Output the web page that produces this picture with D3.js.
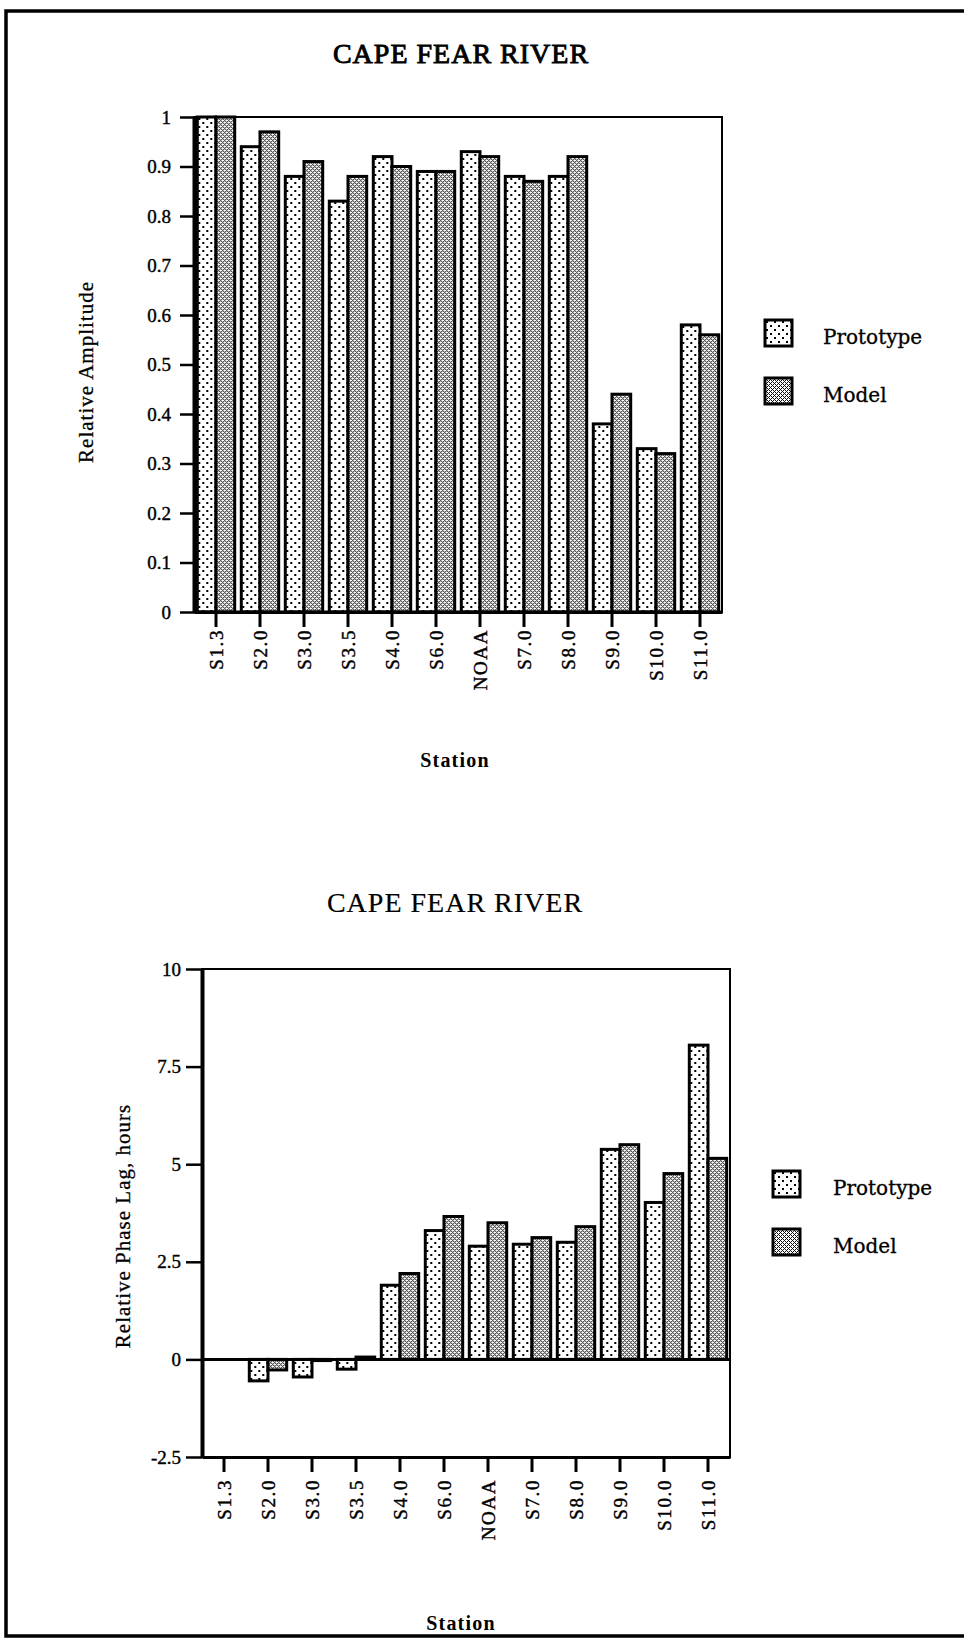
<!DOCTYPE html>
<html>
<head>
<meta charset="utf-8">
<script src="https://cdn.jsdelivr.net/npm/d3@7"></script>
<style>
  body { margin: 0; background: #fff; }
  svg { display: block; }
</style>
</head>
<body>
<script>
// donnees
const stations = ['S1.3', 'S2.0', 'S3.0', 'S3.5', 'S4.0', 'S6.0', 'NOAA', 'S7.0', 'S8.0', 'S9.0', 'S10.0', 'S11.0'];
const series = ['Prototype', 'Model'];

const ampPrototype = [1.00, 0.94, 0.88, 0.83, 0.92, 0.89, 0.93, 0.88, 0.88, 0.38, 0.33, 0.58];
const ampModel     = [1.00, 0.97, 0.91, 0.88, 0.90, 0.89, 0.92, 0.87, 0.92, 0.44, 0.32, 0.56];

const lagPrototype = [0, -0.55, -0.45, -0.25, 1.90, 3.30, 2.90, 2.95, 3.00, 5.38, 4.02, 8.05];
const lagModel     = [0, -0.27, -0.03, 0.06, 2.20, 3.66, 3.50, 3.12, 3.40, 5.50, 4.76, 5.15];

const ampTicks = [0, 0.1, 0.2, 0.3, 0.4, 0.5, 0.6, 0.7, 0.8, 0.9, 1];
const ampTickLabels = ['0', '0.1', '0.2', '0.3', '0.4', '0.5', '0.6', '0.7', '0.8', '0.9', '1'];
const lagTicks = [-2.5, 0, 2.5, 5, 7.5, 10];
const lagTickLabels = ['-2.5', '0', '2.5', '5', '7.5', '10'];

const serif = '"Liberation Serif", "Times New Roman", serif';
const wideSerif = '"DejaVu Serif", serif';

const svg = d3.select('body')
              .append('svg')
              .attr('width', 964)
              .attr('height', 1639);

// motifs de remplissage
const defs = svg.append('defs');

const dots = defs.append('pattern')
                 .attr('id', 'motif-proto')
                 .attr('patternUnits', 'userSpaceOnUse')
                 .attr('width', 8)
                 .attr('height', 8);
dots.append('rect').attr('width', 8).attr('height', 8).attr('fill', '#fff');
dots.append('rect').attr('x', 1).attr('y', 1).attr('width', 2).attr('height', 2).attr('fill', '#000');
dots.append('rect').attr('x', 5).attr('y', 5).attr('width', 2).attr('height', 2).attr('fill', '#000');

// trame grise du modele
const grid = defs.append('pattern')
                 .attr('id', 'motif-model')
                 .attr('patternUnits', 'userSpaceOnUse')
                 .attr('width', 4)
                 .attr('height', 4);
grid.append('rect').attr('width', 4).attr('height', 4).attr('fill', '#fff');
[[0, 0], [2, 0], [1, 1], [0, 2], [2, 2], [3, 3]].forEach(p => {
    grid.append('rect')
        .attr('x', p[0]).attr('y', p[1])
        .attr('width', 1).attr('height', 1)
        .attr('fill', '#111');
});

const motif = {Prototype: 'url(#motif-proto)', Model: 'url(#motif-model)'};

// cadre de la page
svg.append('path')
   .attr('d', 'M964,11 H6 V1636 H964')
   .attr('fill', 'none')
   .attr('stroke', '#000')
   .attr('stroke-width', 3.5);

//////////////// fonction graphique //////////////////////////

const graphique = (o) => {

    const g = svg.append('g')
                 .attr('transform', `translate(${o.left}, ${o.top})`);

    const x0 = d3.scaleBand()
                 .domain(stations)
                 .range([0, o.width])
                 .paddingInner(0.15)
                 .paddingOuter(0.075);

    const x1 = d3.scaleBand()
                 .domain(series)
                 .range([0, x0.bandwidth()]);

    const y = d3.scaleLinear()
                .domain(o.domain)
                .range([o.height, 0]);

    const rows = stations.map((s, i) => ({
        station: s,
        values: [{key: 'Prototype', v: o.proto[i]}, {key: 'Model', v: o.model[i]}]
    }));

    // barres
    g.selectAll('g.groupe')
     .data(rows)
     .enter()
     .append('g')
     .attr('class', 'groupe')
     .attr('transform', d => `translate(${x0(d.station)}, 0)`)
     .selectAll('rect')
     .data(d => d.values.filter(e => e.v !== 0))
     .enter()
     .append('rect')
     .attr('x', d => x1(d.key))
     .attr('width', x1.bandwidth())
     .attr('y', d => y(Math.max(0, d.v)))
     .attr('height', d => Math.abs(y(d.v) - y(0)))
     .attr('fill', d => motif[d.key])
     .attr('stroke', '#000')
     .attr('stroke-width', 3);

    // cadre
    g.append('rect')
     .attr('width', o.width)
     .attr('height', o.height)
     .attr('fill', 'none')
     .attr('stroke', '#000')
     .attr('stroke-width', 2);

    // ligne du zero
    g.append('line')
     .attr('x1', 0)
     .attr('x2', o.width)
     .attr('y1', y(0))
     .attr('y2', y(0))
     .attr('stroke', '#000')
     .attr('stroke-width', 3);

    // axe y
    const axeY = g.append('g')
                  .call(d3.axisLeft(y)
                          .tickValues(o.ticks)
                          .tickFormat((d, i) => o.tickLabels[i])
                          .tickSize(o.tickLen)
                          .tickSizeOuter(0)
                          .tickPadding(o.tickPad));
    axeY.select('.domain').attr('stroke-width', 4);
    axeY.selectAll('line').attr('stroke-width', 2.5);
    axeY.selectAll('text')
        .attr('fill', '#000')
        .attr('stroke', '#000')
        .attr('stroke-width', 0.4)
        .style('font-family', serif)
        .style('font-size', '19px');

    // axe x
    const axeX = g.append('g')
                  .attr('transform', `translate(0, ${o.height})`)
                  .call(d3.axisBottom(x0).tickSize(15).tickSizeOuter(0));
    axeX.select('.domain').attr('stroke-width', 3);
    axeX.selectAll('line').attr('stroke-width', 3);
    axeX.selectAll('text')
        .attr('fill', '#000')
        .attr('stroke', '#000')
        .attr('stroke-width', 0.4)
        .attr('transform', 'rotate(-90)')
        .attr('text-anchor', 'end')
        .attr('x', -o.labelGap)
        .attr('y', 0)
        .attr('dy', '0.35em')
        .style('font-family', serif)
        .style('font-size', '19px')
        .style('letter-spacing', '1.6px');

    // titres
    svg.append('text')
       .attr('x', o.titleX)
       .attr('y', o.titleY)
       .attr('text-anchor', 'middle')
       .attr('stroke', '#000')
       .attr('stroke-width', o.titleStroke)
       .style('font-family', serif)
       .style('font-size', '28px')
       .style('letter-spacing', '1px')
       .text('CAPE FEAR RIVER');

    svg.append('text')
       .attr('transform', `translate(${o.yLabelX}, ${o.yLabelY}) rotate(-90)`)
       .attr('text-anchor', 'middle')
       .attr('stroke', '#000')
       .attr('stroke-width', 0.3)
       .style('font-family', serif)
       .style('font-size', '21px')
       .style('letter-spacing', '1px')
       .text(o.yLabel);

    svg.append('text')
       .attr('x', o.xLabelX)
       .attr('y', o.xLabelY)
       .attr('text-anchor', 'middle')
       .style('font-family', serif)
       .style('font-weight', 'bold')
       .style('font-size', '20px')
       .style('letter-spacing', '1.2px')
       .text('Station');

    // legendes
    const leg = svg.append('g')
                   .attr('transform', `translate(${o.legX}, ${o.legY})`);

    const items = leg.selectAll('g')
                     .data(series)
                     .enter()
                     .append('g')
                     .attr('transform', (d, i) => `translate(0, ${i * o.legStep})`);

    items.append('rect')
         .attr('width', 27)
         .attr('height', 26)
         .attr('fill', d => motif[d])
         .attr('stroke', '#000')
         .attr('stroke-width', 3);

    items.append('text')
         .attr('x', o.legTextDx)
         .attr('y', 24)
         .attr('stroke', '#000')
         .attr('stroke-width', 0.3)
         .style('font-family', wideSerif)
         .style('font-size', '20px')
         .text(d => d);
};

graphique({
    left: 194, top: 117, width: 528, height: 495,
    domain: [0, 1], ticks: ampTicks, tickLabels: ampTickLabels,
    tickLen: 14, tickPad: 9, labelGap: 17,
    proto: ampPrototype, model: ampModel,
    titleX: 461, titleY: 63, titleStroke: 0.9,
    yLabel: 'Relative Amplitude', yLabelX: 93, yLabelY: 372,
    xLabelX: 455, xLabelY: 767,
    legX: 765, legY: 320, legStep: 58, legTextDx: 58
});

graphique({
    left: 202, top: 969, width: 528, height: 488,
    domain: [-2.5, 10], ticks: lagTicks, tickLabels: lagTickLabels,
    tickLen: 16, tickPad: 5, labelGap: 22,
    proto: lagPrototype, model: lagModel,
    titleX: 455, titleY: 912, titleStroke: 0.2,
    yLabel: 'Relative Phase Lag, hours', yLabelX: 130, yLabelY: 1226,
    xLabelX: 461, xLabelY: 1630,
    legX: 773, legY: 1171, legStep: 58, legTextDx: 60
});
</script>
</body>
</html>
